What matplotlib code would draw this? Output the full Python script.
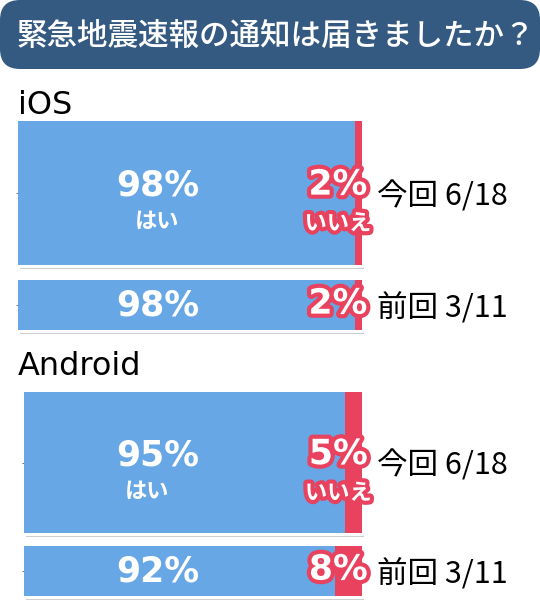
import matplotlib
matplotlib.use("Agg")
import matplotlib.pyplot as plt
from matplotlib.transforms import Affine2D
from matplotlib.patches import FancyBboxPatch, Rectangle
import matplotlib.patheffects as pe

# ---- data ----
title = "緊急地震速報の通知は届きましたか？"
platforms = ["iOS", "Android"]
periods = ["今回 6/18", "前回 3/11"]
yes_ios = [98, 98]
no_ios = [2, 2]
yes_android = [95, 92]
no_android = [5, 8]
yes_word = "はい"
no_word = "いいえ"

BLUE = "#67A7E6"
RED = "#E8425F"
NAVY = "#355A82"
JP = ["Noto Sans CJK JP", "DejaVu Sans"]

W, H = 540, 610
fig = plt.figure(figsize=(W / 100, H / 100), dpi=100)
fig.patch.set_facecolor("white")
PX = Affine2D().scale(1 / W, -1 / H).translate(0, 1) + fig.transFigure

# title banner
fig.patches.append(FancyBboxPatch((0, 0), W, 69, boxstyle="round,pad=0,rounding_size=20",
                                  transform=PX, facecolor=NAVY, edgecolor="none"))
fig.text(17, 36, title, transform=PX, color="white", fontsize=22, family=JP,
         fontweight="medium", ha="left", va="center")

# layout per panel: (left, right, top, bottom) in pixels, bar centres, bar heights
layouts = [
    dict(box=(18, 362, 121, 330), yc=[193, 305], h=[144, 50], label_y=114,
         yes_x=40.5, sub_dx=0),
    dict(box=(24, 362, 392, 596), yc=[462.5, 571], h=[141, 50], label_y=375,
         yes_x=39.5, sub_dx=-10),
]
series = [(yes_ios, no_ios), (yes_android, no_android)]

for name, lay, (yes, no) in zip(platforms, layouts, series):
    l, r, t, b = lay["box"]
    ax = fig.add_axes([l / W, 1 - b / H, (r - l) / W, (b - t) / H])
    ax.set_xlim(0, 100)
    ax.set_ylim(b, t)
    ax.patch.set_alpha(0)
    for s in ax.spines.values():
        s.set_visible(False)
    ax.set_xticks([])

    for y, h in zip(lay["yc"], lay["h"]):
        frame = Rectangle((0, y - h / 2), 100, h, facecolor="white", edgecolor="white",
                          lw=4.5, joinstyle="round", zorder=1, clip_on=False,
                          path_effects=[pe.SimplePatchShadow(offset=(1.5, -3),
                                                             shadow_rgbFace="#000000", alpha=0.22),
                                        pe.Normal()])
        ax.add_patch(frame)

    ax.barh(lay["yc"], yes, height=lay["h"], left=0, color=BLUE, zorder=2)
    ax.barh(lay["yc"], no, height=lay["h"], left=yes, color=RED, zorder=2)

    ax.set_yticks(lay["yc"], periods)
    ax.tick_params(axis="y", left=True, right=False, labelleft=False, labelright=True,
                   length=1.5, width=0.8, color="#777777", pad=9)
    for tl in ax.get_yticklabels():
        tl.set_fontfamily(JP)
        tl.set_fontsize(22)
        tl.set_color("black")

    stroke = [pe.withStroke(linewidth=6, foreground=RED)]
    for i, (y, yv, nv) in enumerate(zip(lay["yc"], yes, no)):
        dy = -7 if i == 0 else 0
        ax.annotate(f"{yv}%", (lay["yes_x"], y), xytext=(0, -dy * 0.72), textcoords="offset points",
                    ha="center", va="center", color="white", fontsize=25,
                    fontweight="bold", family="DejaVu Sans", zorder=5)
        ax.annotate(f"{nv}%", (93, y), xytext=(0, -dy * 0.72 + 1), textcoords="offset points",
                    ha="center", va="center", color="white", fontsize=25,
                    fontweight="bold", family="DejaVu Sans", zorder=5,
                    path_effects=stroke, annotation_clip=False)
        if i == 0:
            ax.annotate(yes_word, (lay["yes_x"], y), xytext=(lay["sub_dx"] * 0.72, -20.5),
                        textcoords="offset points", ha="center", va="center", color="white",
                        fontsize=16, fontweight="bold", family=JP, zorder=5)
            ax.annotate(no_word, (93, y), xytext=(0, -22), textcoords="offset points",
                        ha="center", va="center", color="white", fontsize=16,
                        fontweight="bold", family=JP, zorder=5, path_effects=stroke,
                        annotation_clip=False)

    fig.text(18, lay["label_y"], name, transform=PX, fontsize=23, family="DejaVu Sans",
             color="black", ha="left", va="baseline")

fig.savefig("out.png", dpi=100, facecolor="white")
